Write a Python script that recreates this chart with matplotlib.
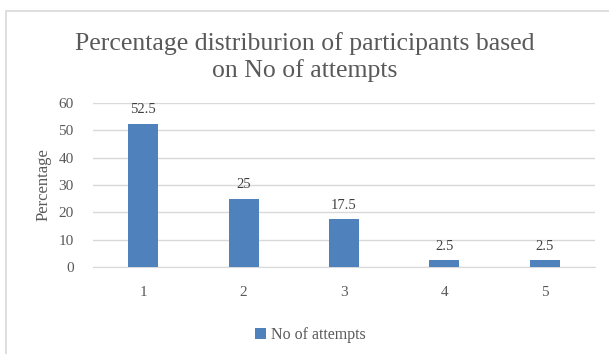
import matplotlib.pyplot as plt
from matplotlib.patches import Rectangle

attempts = ["1", "2", "3", "4", "5"]
percentage = [52.5, 25, 17.5, 2.5, 2.5]
value_labels = ["52.5", "25", "17.5", "2.5", "2.5"]
y_ticks = [0, 10, 20, 30, 40, 50, 60]

plt.rcParams['font.family'] = ['Liberation Serif', 'DejaVu Serif']
txt = '#595959'

fig = plt.figure(figsize=(6.09, 3.54), dpi=100)
ax = fig.add_axes([93/609, 1 - 267/354, (595-93)/609, (267-103)/354])

# marco del grafico
fig.patches.append(Rectangle((6/609, -0.1), 1.2, 1 - 11/354 + 0.1, transform=fig.transFigure,
                             fill=False, edgecolor='#d9d9d9', linewidth=1.2))

pos = range(1, len(attempts) + 1)
bars = ax.bar(pos, percentage, width=0.3, color='#4f81bd', label='No of attempts', zorder=3)
for b, lab in zip(bars, value_labels):
    ax.text(b.get_x() + b.get_width()/2, b.get_height() + 2.8, lab, ha='center', va='bottom',
            fontsize=10.5, color='#404040')

ax.set_xlim(0.5, 5.5)
ax.set_ylim(0, 60)
ax.set_yticks(y_ticks)
ax.set_xticks(list(pos))
ax.set_xticklabels(attempts)
ax.yaxis.grid(True, color='#d9d9d9', linewidth=1, zorder=0)
for s in ['top', 'right', 'left']:
    ax.spines[s].set_visible(False)
ax.spines['bottom'].set_color('#d9d9d9')
ax.tick_params(length=0, labelsize=11, colors=txt)
ax.tick_params(axis='x', pad=14)
ax.tick_params(axis='y', pad=14)
ax.set_ylabel('Percentage', fontsize=12, color=txt, labelpad=5)

fig.text(0.5, 1 - 57/354, 'Percentage distriburion of participants based\non No of attempts',
         ha='center', va='center', fontsize=18.5, color=txt, linespacing=1.25)

fig.legend(loc='center', bbox_to_anchor=(0.51, 1 - 335/354), frameon=False, fontsize=11.5,
           handlelength=0.7, handleheight=0.7, handletextpad=0.3, labelcolor=txt)

fig.savefig('out.png', dpi=100)
